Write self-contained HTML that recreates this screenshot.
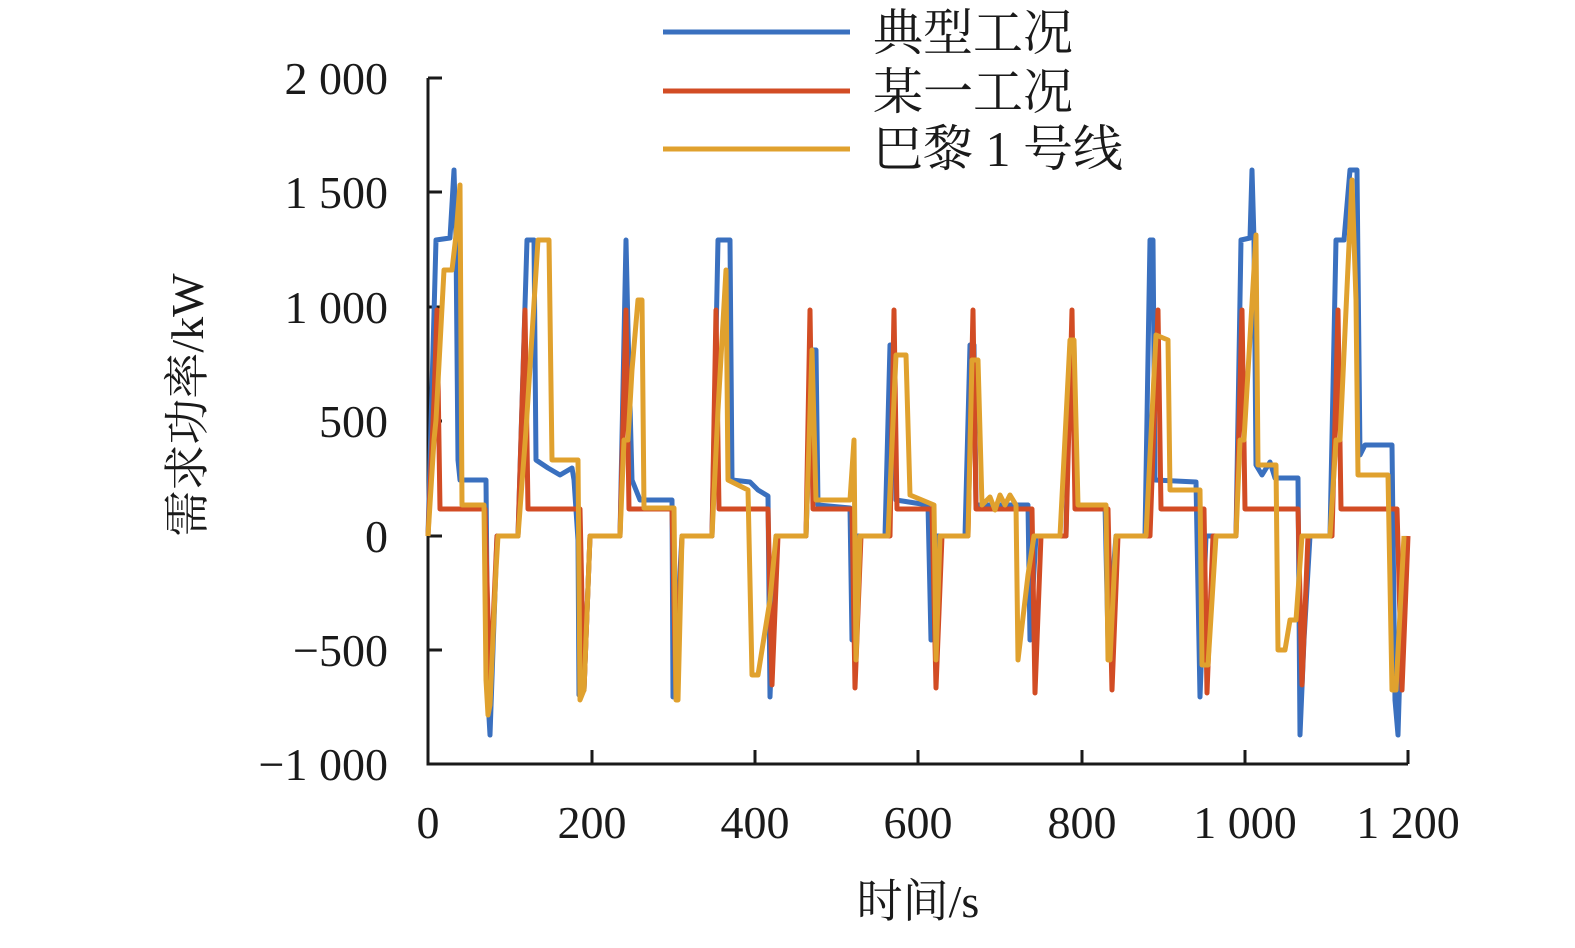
<!DOCTYPE html>
<html><head><meta charset="utf-8"><style>
html,body{margin:0;padding:0;background:#fff;}
svg text{font-family:"Liberation Serif","Noto Serif CJK SC",serif;fill:#1a1a1a;}
</style></head><body>
<svg width="1575" height="943" viewBox="0 0 1575 943" xmlns="http://www.w3.org/2000/svg">
<g stroke="#1a1a1a" stroke-width="3" fill="none">
<polyline points="428,78 428,764 1408,764"/>
<line x1="428" y1="78" x2="442" y2="78"/><line x1="428" y1="192" x2="442" y2="192"/>
<line x1="428" y1="307" x2="442" y2="307"/><line x1="428" y1="421" x2="442" y2="421"/>
<line x1="428" y1="536" x2="442" y2="536"/><line x1="428" y1="650" x2="442" y2="650"/>
<line x1="592" y1="764" x2="592" y2="750"/><line x1="755" y1="764" x2="755" y2="750"/>
<line x1="918" y1="764" x2="918" y2="750"/><line x1="1082" y1="764" x2="1082" y2="750"/>
<line x1="1245" y1="764" x2="1245" y2="750"/><line x1="1408" y1="764" x2="1408" y2="750"/>
</g>
<g font-size="46" text-anchor="end">
<text x="388" y="94">2 000</text><text x="388" y="208">1 500</text><text x="388" y="323">1 000</text>
<text x="388" y="437">500</text><text x="388" y="552">0</text><text x="388" y="666">−500</text><text x="388" y="780">−1 000</text>
</g>
<g font-size="46" text-anchor="middle">
<text x="428" y="838">0</text><text x="592" y="838">200</text><text x="755" y="838">400</text>
<text x="918" y="838">600</text><text x="1082" y="838">800</text><text x="1245" y="838">1 000</text><text x="1408" y="838">1 200</text>
<text x="918" y="917">时间/s</text>
<text transform="translate(203,405) rotate(-90)">需求功率/kW</text>
</g>
<g fill="none" stroke-width="5" stroke-linejoin="round">
<polyline stroke="#3a70bf" points="428,536 436,240 450,238 454,170 456,240 458,460 460,480 486,480 488,700 490,735 497,536 518,536 527,240 534,240 536,460 548,468 560,475 572,468 574,480 578,540 579,695 584,690 590,536 620,536 626,240 628,330 632,480 636,490 640,500 672,500 673,697 682,536 712,536 718,240 730,240 732,480 750,482 758,490 768,496 770,697 776,536 806,536 812,350 816,350 818,505 850,508 852,640 856,536 885,536 890,345 894,345 896,500 928,505 931,640 936,536 965,536 970,345 974,345 976,505 1028,505 1030,640 1036,536 1066,536 1070,345 1074,345 1076,505 1105,505 1108,640 1116,536 1145,536 1150,240 1153,240 1155,480 1196,482 1200,697 1206,536 1236,536 1241,240 1250,238 1252,170 1254,240 1256,465 1262,475 1270,462 1275,478 1298,478 1300,735 1304,640 1310,536 1330,536 1336,240 1344,240 1350,170 1357,170 1360,455 1365,445 1392,445 1395,700 1398,735 1402,600 1406,536"/>
<polyline stroke="#d24c24" points="428,536 434,400 437,310 440,509 485,509 490,690 497,536 518,536 525,310 528,509 580,509 584,690 590,536 620,536 626,310 629,509 672,509 676,695 682,536 712,536 716,310 719,509 768,509 772,685 778,536 806,536 810,310 813,509 852,509 855,688 861,536 890,536 894,310 897,509 932,509 936,688 942,536 968,536 973,310 976,509 1032,509 1035,693 1041,536 1066,536 1072,310 1075,509 1108,509 1112,690 1118,536 1150,536 1158,310 1161,509 1204,509 1207,693 1213,536 1236,536 1242,310 1245,509 1298,509 1302,685 1308,536 1332,536 1338,310 1341,509 1397,509 1402,690 1408,536"/>
<polyline stroke="#e0a12e" points="428,536 434,440 436,420 444,270 452,270 456,235 460,185 462,505 484,505 486,680 488,715 490,705 496,570 498,536 518,536 526,430 538,240 549,240 552,460 578,460 580,700 584,690 590,536 620,536 624,440 628,440 632,370 638,300 642,300 644,508 674,508 676,700 678,700 682,536 712,536 718,410 726,270 728,480 748,490 752,675 758,675 770,600 776,536 806,536 812,350 816,500 850,500 854,440 856,660 860,536 888,536 896,355 906,355 910,495 934,505 936,660 940,536 968,536 972,360 978,360 982,505 990,497 995,510 1000,495 1005,505 1010,495 1016,505 1018,660 1028,575 1034,536 1060,536 1070,340 1074,340 1078,505 1106,505 1108,660 1110,660 1116,536 1146,536 1156,335 1168,340 1170,490 1200,490 1202,665 1208,665 1216,536 1236,536 1240,440 1244,440 1256,235 1258,465 1276,465 1278,650 1285,650 1290,620 1296,620 1302,536 1330,536 1336,440 1340,440 1352,180 1356,300 1358,475 1388,475 1392,690 1396,690 1404,536"/>
</g>
<g stroke-width="5">
<line x1="663" y1="32" x2="850" y2="32" stroke="#3a70bf"/>
<line x1="663" y1="91" x2="850" y2="91" stroke="#d24c24"/>
<line x1="663" y1="149" x2="850" y2="149" stroke="#e0a12e"/>
</g>
<g font-size="50">
<text x="873" y="50">典型工况</text>
<text x="873" y="109">某一工况</text>
<text x="873" y="166">巴黎 1 号线</text>
</g>
</svg>
</body></html>
